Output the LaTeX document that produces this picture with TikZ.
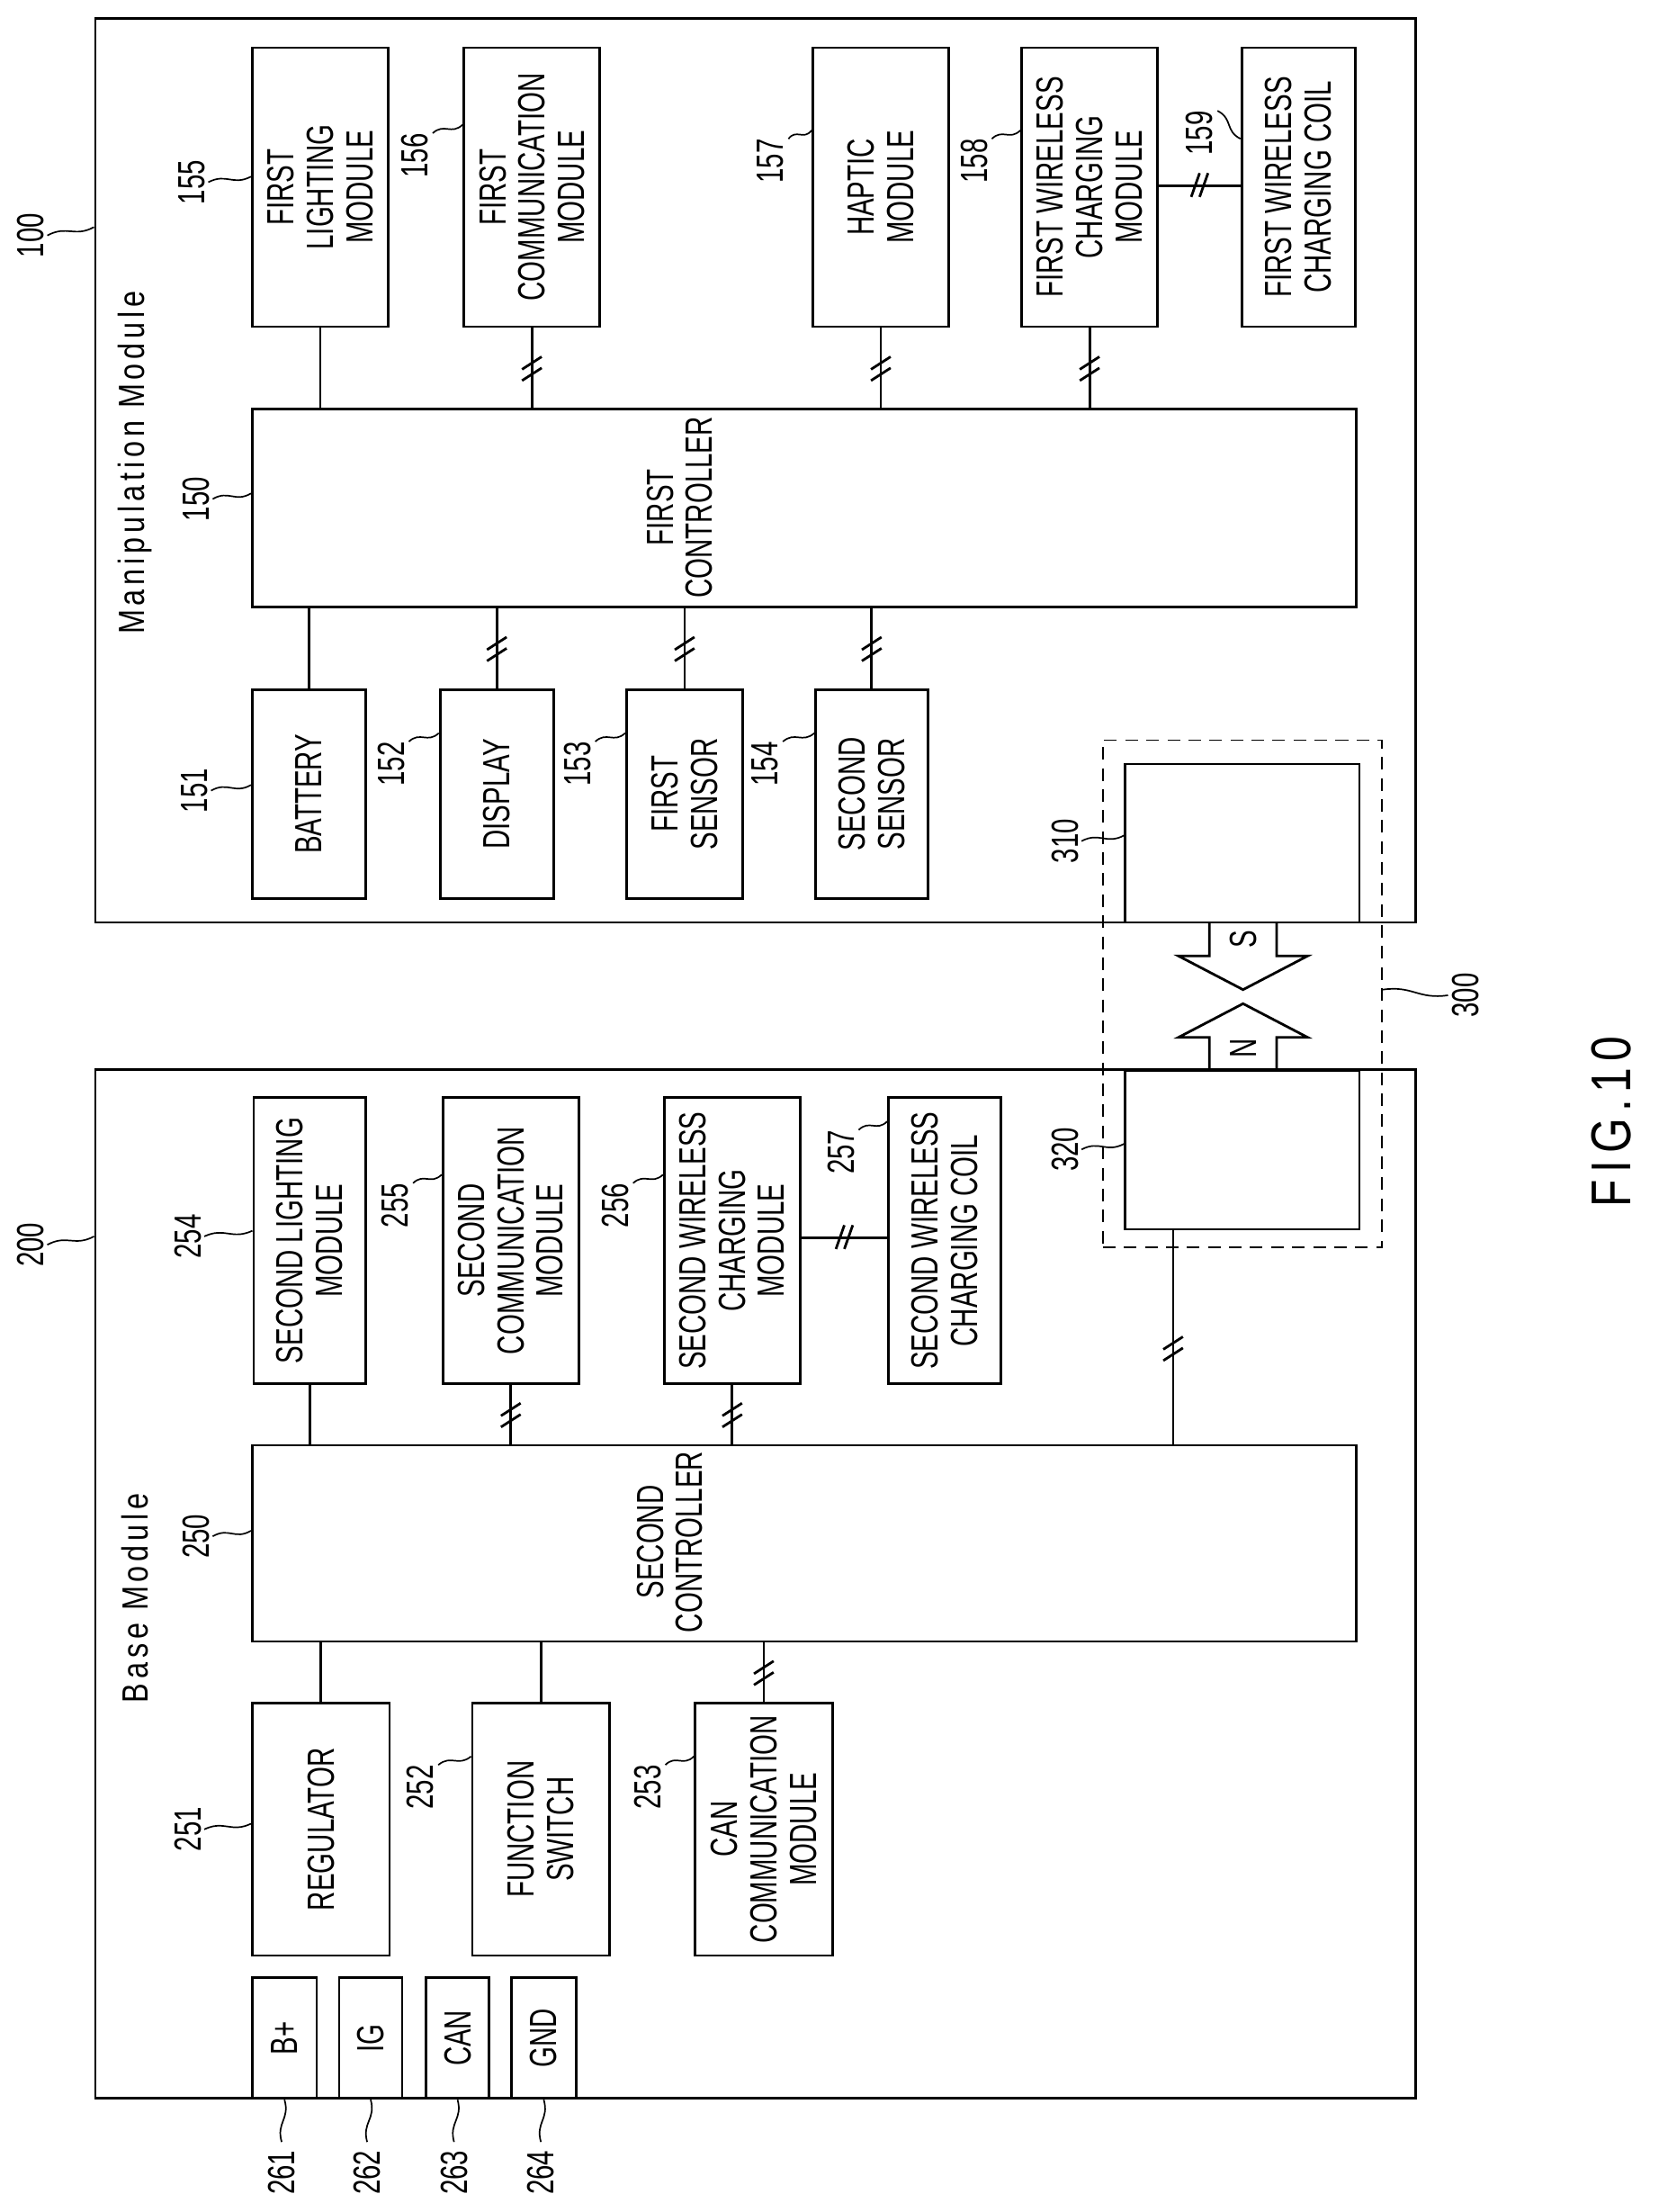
\documentclass[tikz,border=0pt]{standalone}
\usepackage{fontspec}
\setmainfont{Liberation Sans}[FakeStretch=0.7]
\newfontfamily\wideface{Liberation Sans}[FakeStretch=0.8,LetterSpace=12]
\usetikzlibrary{calc}
\begin{document}
\begin{tikzpicture}[x=1pt,y=-1pt,
  every node/.style={font=\fontsize{27}{28}\selectfont, inner sep=0pt},
  blk/.style={draw, line width=1.8pt, align=center, rotate=90},
  frame/.style={draw, line width=1.8pt},
  lbl/.style={rotate=90},
  ln/.style={line width=1.8pt},
  ld/.style={line width=1.1pt}]
\useasboundingbox (0,0) rectangle (1190,1578);
\newcommand\blk[6]{\node[blk,minimum width={#5-#3},minimum height={#4-#2}] (#1) at ({(#2+#4)/2},{(#3+#5)/2}) {#6};}
\newcommand\frm[5]{\node[frame,minimum width={#4-#2},minimum height={#5-#3}] (#1) at ({(#2+#4)/2},{(#3+#5)/2}) {};}
\newcommand\lead[2]{\draw[ld] (#1) .. controls ($(#1)!0.45!(#2)!5pt!90:(#2)$) and ($(#1)!0.55!(#2)!5pt!-90:(#2)$) .. (#2);}
\newcommand\vsl[1]{\draw[ln] ($(#1)+(-7,1)$) -- ++(14,-9); \draw[ln] ($(#1)+(-7,9)$) -- ++(14,-9);}
\newcommand\hsl[1]{\draw[ln] ($(#1)+(-6,8)$) -- ++(6,-17); \draw[ln] ($(#1)+(0,8)$) -- ++(6,-17);}

% outer frames
\frm{m100}{68}{13}{1010}{658}
\frm{m200}{68}{763}{1010}{1497}
\node[lbl,font=\wideface\fontsize{26}{28}\selectfont] (t100) at (96,330) {Manipulation Module};
\node[lbl,font=\wideface\fontsize{26}{28}\selectfont] (t200) at (96,1140) {Base Module};

% manipulation module
\blk{b155}{180}{34}{277}{233}{FIRST\\LIGHTING\\MODULE}
\blk{b156}{331}{34}{428}{233}{FIRST\\COMMUNICATION\\MODULE}
\blk{b157}{580}{34}{677}{233}{HAPTIC\\MODULE}
\blk{b158}{729}{34}{826}{233}{FIRST WIRELESS\\CHARGING\\MODULE}
\blk{b159}{886}{34}{967}{233}{FIRST WIRELESS\\CHARGING COIL}
\blk{c150}{180}{292}{968}{433}{}
\node[lbl,align=center] (t150) at (485,362) {FIRST\\CONTROLLER};
\blk{b151}{180}{492}{261}{641}{BATTERY}
\blk{b152}{314}{492}{395}{641}{DISPLAY}
\blk{b153}{447}{492}{530}{641}{FIRST\\SENSOR}
\blk{b154}{582}{492}{662}{641}{SECOND\\SENSOR}

\foreach \b in {b155,b156,b157,b158}{\draw[ln] (\b.west) -- (\b.west |- c150.east);}
\foreach \b in {b151,b152,b153,b154}{\draw[ln] (\b.east) -- (\b.east |- c150.west);}
\vsl{$(b156.west)!0.5!(b156.west |- c150.east)$}
\vsl{$(b157.west)!0.5!(b157.west |- c150.east)$}
\vsl{$(b158.west)!0.5!(b158.west |- c150.east)$}
\vsl{$(b152.east)!0.5!(b152.east |- c150.west)$}
\vsl{$(b153.east)!0.5!(b153.east |- c150.west)$}
\vsl{$(b154.east)!0.5!(b154.east |- c150.west)$}
\coordinate (k158) at ($(b158.south)+(0,-1)$);
\draw[ln] (k158) -- (k158 -| b159.north);
\hsl{$(k158)!0.5!(k158 -| b159.north)$}

% magnet
\node[draw,line width=1.2pt,dash pattern=on 9pt off 6pt,minimum width=199,minimum height=362] (d300) at (886.5,709) {};
\frm{b310}{803}{545}{970}{658}
\frm{b320}{803}{764}{970}{877}
\draw[ln] (863,658) -- (863,682) -- (841,682) -- (887,706) -- (933,682) -- (911,682) -- (911,658);
\draw[ln] (863,764) -- (863,740) -- (841,740) -- (887,716) -- (933,740) -- (911,740) -- (911,764);
\node[lbl] (tS) at (887,670) {S};
\node[lbl] (tN) at (887,748) {N};

% base module
\blk{b254}{181}{783}{261}{987}{SECOND LIGHTING\\MODULE}
\blk{b255}{316}{783}{413}{987}{SECOND\\COMMUNICATION\\MODULE}
\blk{b256}{474}{783}{571}{987}{SECOND WIRELESS\\CHARGING\\MODULE}
\blk{b257}{634}{783}{714}{987}{SECOND WIRELESS\\CHARGING COIL}
\blk{c250}{180}{1031}{968}{1171}{}
\node[lbl,align=center] (t250) at (478,1100) {SECOND\\CONTROLLER};
\blk{b251}{180}{1215}{278}{1395}{REGULATOR}
\blk{b252}{337}{1215}{435}{1395}{FUNCTION\\SWITCH}
\blk{b253}{496}{1215}{594}{1395}{CAN\\COMMUNICATION\\MODULE}
\blk{p261}{180}{1411}{226}{1497}{B+}
\blk{p262}{242}{1411}{287}{1497}{IG}
\blk{p263}{304}{1411}{349}{1497}{CAN}
\blk{p264}{365}{1411}{411}{1497}{GND}

\foreach \b in {b254,b255,b256}{\draw[ln] (\b.west) -- (\b.west |- c250.east);}
\foreach \b in {b251,b252,b253}{\draw[ln] (\b.east) -- (\b.east |- c250.west);}
\vsl{$(b255.west)!0.5!(b255.west |- c250.east)$}
\vsl{$(b256.west)!0.5!(b256.west |- c250.east)$}
\vsl{$(b253.east)!0.5!(b253.east |- c250.west)$}
\coordinate (k256) at ($(b256.south)+(0,-2)$);
\draw[ln] (k256) -- (k256 -| b257.north);
\hsl{$(k256)!0.5!(k256 -| b257.north)$}
\coordinate (k320) at ($(b320.south west)+(35,0)$);
\draw[ln] (k320) -- (k320 |- c250.east);
\vsl{$(k320)!0.55!(k320 |- c250.east)$}

% reference labels
\node[lbl] (l100) at (22,168) {100};
\node[lbl] (l200) at (22,888) {200};
\node[lbl] (l155) at (137,130) {155};
\node[lbl] (l156) at (296,111) {156};
\node[lbl] (l157) at (550,115) {157};
\node[lbl] (l158) at (695,115) {158};
\node[lbl] (l159) at (856,95) {159};
\node[lbl] (l150) at (140,356) {150};
\node[lbl] (l151) at (139,564) {151};
\node[lbl] (l152) at (279,545) {152};
\node[lbl] (l153) at (412,545) {153};
\node[lbl] (l154) at (546,545) {154};
\node[lbl] (l310) at (760,600) {310};
\node[lbl] (l320) at (760,820) {320};
\node[lbl] (l300) at (1046,710) {300};
\node[lbl] (l254) at (134,882) {254};
\node[lbl] (l255) at (282,860) {255};
\node[lbl] (l256) at (439,860) {256};
\node[lbl] (l257) at (600,822) {257};
\node[lbl] (l250) at (140,1096) {250};
\node[lbl] (l251) at (134,1305) {251};
\node[lbl] (l252) at (300,1275) {252};
\node[lbl] (l253) at (462,1275) {253};
\node[lbl] (l261) at (201,1550) {261};
\node[lbl] (l262) at (262,1550) {262};
\node[lbl] (l263) at (324,1550) {263};
\node[lbl] (l264) at (386,1550) {264};

\lead{$(l100.south)+(2,0)$}{$(l100.south -| m100.west)+(0,-6)$}
\lead{$(l200.south)+(2,0)$}{$(l200.south -| m200.west)+(0,-6)$}
\foreach \l/\b in {l155/b155,l150/c150,l250/c250,l151/b151,l254/b254,l251/b251}{
  \lead{$(\l.south)+(2,0)$}{$(\l.south -| \b.north)+(0,-4)$}}
\foreach \l/\b in {l310/b310,l320/b320}{
  \lead{$(\l.south)+(2,0)$}{$(\l.south -| \b.west)+(0,-4)$}}
\foreach \l/\b in {l156/b156,l157/b157,l158/b158,l152/b152,l153/b153,l154/b154,l255/b255,l256/b256,l257/b257,l252/b252,l253/b253}{
  \lead{$(\l.south east)+(3,0)$}{$(\l.south -| \b.north)+(0,-22)$}}
\lead{$(l159.south east)+(3,0)$}{$(l159.south -| b159.north)+(0,4)$}
\lead{$(l300.north -| d300.east)+(0,-4)$}{$(l300.north)+(-3,0)$}
\foreach \i in {261,262,263,264}{
  \lead{p\i.west}{$(l\i.east)+(0,-6)$}}

\node[lbl,font=\wideface\fontsize{40}{42}\selectfont] (fig) at (1150,800) {FIG.10};
\end{tikzpicture}
\end{document}
